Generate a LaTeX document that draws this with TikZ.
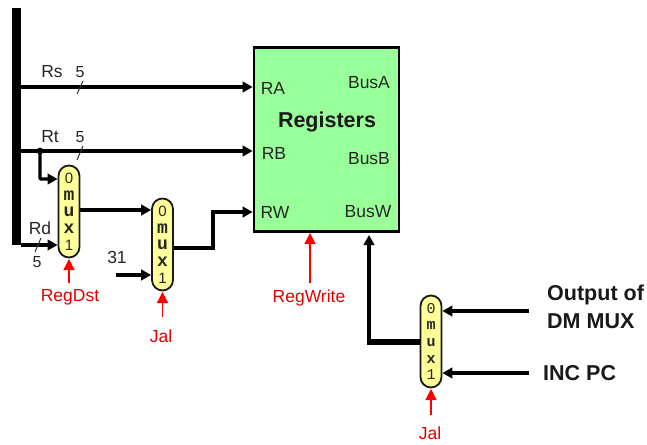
\documentclass[tikz,border=0pt]{standalone}
\usepackage{fontspec}
\setmainfont{Liberation Sans}
\newfontfamily\muxmono{Liberation Mono}
\usetikzlibrary{arrows.meta}
\newcommand{\fsz}[1]{\fontsize{#1}{#1}\selectfont}
\newcommand{\muxbody}{0\\{\muxmono\bfseries\fontsize{18}{16.7}\selectfont m}\\{\muxmono\bfseries\fontsize{18}{16.7}\selectfont u}\\{\muxmono\bfseries\fontsize{18}{16.7}\selectfont x}\\1}
\newcommand{\muxbodyb}{{\muxmono 0}\\{\muxmono\bfseries m}\\{\muxmono\bfseries u}\\{\muxmono\bfseries x}\\{\muxmono 1}}
\definecolor{regcol}{HTML}{99FF99}
\definecolor{muxcol}{HTML}{FFFF99}
\colorlet{txt}{black!85}
\tikzset{
  muxbox/.style={draw=black!90,line width=1.8pt,fill=muxcol,rounded corners=10.5pt,inner sep=0pt,
    minimum width=21pt,align=center,text=black!85,font=\fontsize{15}{16.7}\selectfont},
  regbox/.style={draw=black,line width=2.6pt,fill=regcol,inner sep=0pt,minimum width=145pt,minimum height=184pt},
  wire/.style={line width=3.3pt,black,-{Triangle[length=10pt,width=10.5pt]}},
  redwire/.style={line width=1.3pt,red,-{Triangle[length=11pt,width=11pt]}},
  tick/.style={line width=1pt,black!80},
  lab/.style={text=txt,font=\fsz{17.5},inner sep=0pt},
  redlab/.style={text=red!90!black,font=\fsz{17.5},inner sep=0pt},
  big/.style={text=black!90,font=\bfseries\fsz{21.5},inner sep=0pt,anchor=west},
}
\begin{document}
\begin{tikzpicture}[x=1pt,y=-1pt]
\useasboundingbox (0,0) rectangle (647,444);
% bus
\fill[black] (12,8) rectangle (21,245);
\coordinate (busrs) at (21,87);
\coordinate (busrt) at (21,151);
\coordinate (busrd) at (21,245);
% blocks
\node[regbox] (regs) at (326.5,139.5) {};
\node[muxbox,minimum height=92pt] (mux1) at (69,211.5) {\muxbody};
\node[muxbox,minimum height=92pt] (mux2) at (162.5,244.5) {\muxbody};
\node[muxbox,minimum height=92pt,font=\fontsize{15}{16.7}\selectfont] (mux3) at (431,341.5) {\muxbodyb};
% register text
\node[lab] (ra) at (273,88) {RA};
\node[lab] (rb) at (274,153) {RB};
\node[lab] (rw) at (275,212) {RW};
\node[lab] (busa) at (369,83) {BusA};
\node[lab] (busb) at (369,159) {BusB};
\node[lab] (busw) at (368,212) {BusW};
\node[font=\bfseries\fsz{21.5},text=black!90,inner sep=0pt] (rname) at (327,122) {Registers};
% free ends
\coordinate (rtjoin) at (40,151);
\coordinate (c31) at (116,275);
\coordinate (rdst) at (69,283);
\coordinate (jal1) at (162.5,317);
\coordinate (rwr) at (310,283);
\coordinate (jal3) at (431,415);
\coordinate (outdm) at (529,311);
\coordinate (incpc) at (529,373);
% wires
\draw[wire] (busrs) -- (regs.west |- busrs);
\draw[wire] (busrt) -- (regs.west |- busrt);
\fill[black] (rtjoin) circle (3.4pt);
\draw[wire,rounded corners=1pt] (rtjoin) |- (mux1.west |- 0,179);
\draw[wire] (busrd) -- (mux1.west |- busrd);
\draw[wire] (mux1.east |- 0,210) -- (mux2.west |- 0,210);
\draw[wire] (c31) -- (mux2.west |- c31);
\draw[wire] (mux2.east |- 0,248) -| (213,212) -- (regs.west |- 0,212);
\draw[line width=5.5pt,black] (mux3.west |- 0,342) -- (367.4,342);
\draw[wire] (369,344.7) -- (369,235);
\draw[wire] (outdm) -- (mux3.east |- outdm);
\draw[wire] (incpc) -- (mux3.east |- incpc);
% control
\draw[redwire] (rdst) -- (mux1.south |- 0,259);
\draw[redwire] (jal1) -- (mux2.south |- 0,292);
\draw[redwire] (rwr) -- (310,233);
\draw[redwire] (jal3) -- (mux3.south |- 0,389);
% ticks
\draw[tick] (77,94) -- (83,81);
\draw[tick] (77,160) -- (83,146);
\draw[tick] (35,252) -- (41,238);
% labels
\node[lab] (lrs) at (52,72) {Rs};
\node[lab,font=\fsz{16}] (l5a) at (80,72) {5};
\node[lab] (lrt) at (50,137) {Rt};
\node[lab,font=\fsz{16}] (l5b) at (80,137) {5};
\node[lab] (lrd) at (40,228) {Rd};
\node[lab,font=\fsz{16}] (l5c) at (37,262) {5};
\node[lab] (l31) at (117,257) {31};
\node[redlab] (lrdst) at (70,297) {RegDst};
\node[redlab] (ljal1) at (161,336) {Jal};
\node[redlab] (lrwr) at (309,298) {RegWrite};
\node[redlab] (ljal3) at (430,433) {Jal};
\node[big] (lout) at (547,295) {Output of};
\node[big] (ldm) at (547,321) {DM MUX};
\node[big] (linc) at (543,373) {INC PC};
\end{tikzpicture}
\end{document}
